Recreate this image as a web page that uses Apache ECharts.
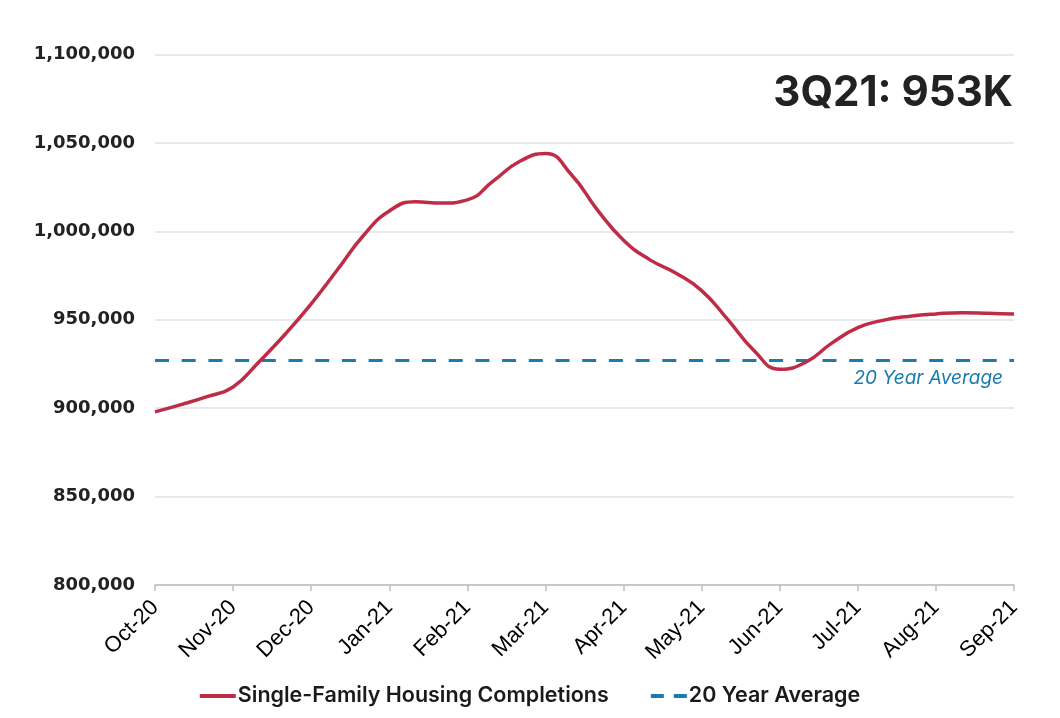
<!DOCTYPE html>
<html>
<head>
<meta charset="utf-8">
<script src="https://cdn.jsdelivr.net/npm/echarts@6/dist/echarts.min.js"></script>
<style>html,body{margin:0;padding:0;background:#fff}#c{width:1060px;height:718px}</style>
</head>
<body>
<div id="c"></div>
<script>
// Month tick labels
var monthLabels = ["Oct-20","Nov-20","Dec-20","Jan-21","Feb-21","Mar-21","Apr-21","May-21","Jun-21","Jul-21","Aug-21","Sep-21"];
// Sample points: three per month (start, ~1/3, ~2/3), last is Sep-21 start
var categories = [
  "Oct-20","Oct-20 b","Oct-20 c",
  "Nov-20","Nov-20 b","Nov-20 c",
  "Dec-20","Dec-20 b","Dec-20 c",
  "Jan-21","Jan-21 b","Jan-21 c",
  "Feb-21","Feb-21 b","Feb-21 c",
  "Mar-21","Mar-21 b","Mar-21 c",
  "Apr-21","Apr-21 b","Apr-21 c",
  "May-21","May-21 b","May-21 c",
  "Jun-21","Jun-21 b","Jun-21 c",
  "Jul-21","Jul-21 b","Jul-21 c",
  "Aug-21","Aug-21 b","Aug-21 c",
  "Sep-21"
];
var completions = [
  897900, 902000, 906500,
  912000, 926300, 941800,
  959000, 978100, 997500,
  1011500, 1016700, 1016000,
  1017800, 1028500, 1039500,
  1044000, 1032000, 1012000,
  995000, 984000, 976500,
  966500, 950200, 932800,
  922000, 926000, 936800,
  945500, 949800, 952000,
  953300, 954000, 953700,
  953200
];
var avgValue = 927000;
var yTicks = {min: 800000, max: 1100000, interval: 50000};
var titleText = "3Q21: 953K";
var seriesNames = ["Single-Family Housing Completions", "20 Year Average"];
var avgLabel = "20 Year Average";

var avgData = categories.map(function(){ return avgValue; });

var chart = echarts.init(document.getElementById('c'), null, {renderer: 'canvas'});
chart.setOption({
  animation: false,
  backgroundColor: '#fff',
  title: {
    text: titleText, right: 42, top: 67,
    textStyle: {fontFamily: 'Inter', fontWeight: 'bold', fontSize: 42, color: '#222'}
  },
  legend: {
    bottom: 6, left: 'center', itemWidth: 36, itemHeight: 4, itemGap: 42,
    textStyle: {fontFamily: 'Inter', fontWeight: 600, fontSize: 21.5, color: '#1a1a1a', padding: [0, 0, 0, -3]},
    data: [
      {name: seriesNames[0], icon: 'rect'},
      {name: seriesNames[1], icon: 'path://M0,0h13v4h-13z M23,0h13v4h-13z'}
    ]
  },
  grid: {left: 155, right: 46, top: 54.5, bottom: 133, containLabel: false},
  xAxis: {
    type: 'category', data: categories, boundaryGap: false,
    axisLine: {lineStyle: {color: '#bdbdbd', width: 1.5}},
    axisTick: {show: true, interval: 2, length: 6, lineStyle: {color: '#bdbdbd', width: 1.5}},
    axisLabel: {
      interval: 2, rotate: 45, margin: 19,
      fontFamily: 'Liberation Sans', fontSize: 22, color: '#000',
      formatter: function(v){ return v.split(' ')[0]; }
    },
    splitLine: {show: false}
  },
  yAxis: {
    type: 'value', min: yTicks.min, max: yTicks.max, interval: yTicks.interval,
    axisLine: {show: false}, axisTick: {show: false},
    axisLabel: {
      margin: 20, fontFamily: 'DejaVu Sans', fontWeight: 'bold', fontSize: 18, color: '#222',
      formatter: function(v){ return v.toLocaleString('en-US'); }
    },
    splitLine: {lineStyle: {color: '#e2e2e2', width: 1.5}}
  },
  series: [
    {
      name: seriesNames[0], type: 'line', data: completions, smooth: 0.5,
      symbol: 'none', z: 3,
      lineStyle: {color: '#be2c48', width: 3.5},
      itemStyle: {color: '#be2c48'}
    },
    {
      name: seriesNames[1], type: 'line', data: avgData,
      symbol: 'none', z: 2,
      lineStyle: {color: '#1a7bae', width: 3, type: [14, 12.7]},
      itemStyle: {color: '#1a7bae'},
      endLabel: {
        show: true, formatter: avgLabel, align: 'right', verticalAlign: 'middle',
        offset: [-19, 18], color: '#1a7bae', fontStyle: 'italic',
        fontSize: 19, fontFamily: 'Inter'
      }
    }
  ]
});
</script>
</body>
</html>
